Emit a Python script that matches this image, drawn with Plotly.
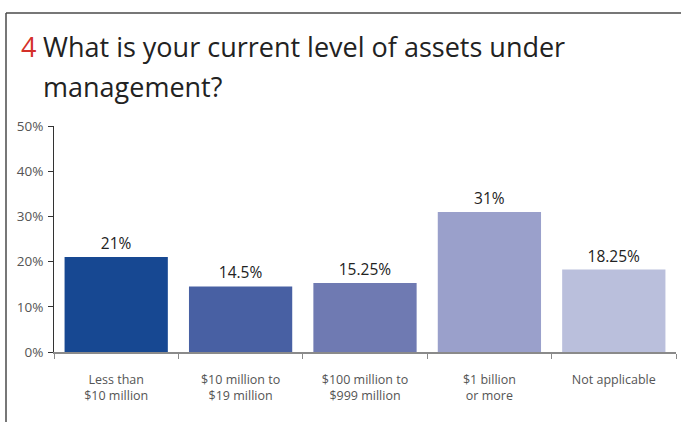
import plotly.graph_objects as go

# Survey results: current level of assets under management
categories = [
    "Less than<br>$10 million",
    "$10 million to<br>$19 million",
    "$100 million to<br>$999 million",
    "$1 billion<br>or more",
    "Not applicable",
]
values = [21, 14.5, 15.25, 31, 18.25]
bar_colors = ["#174892", "#4860a3", "#6f7ab2", "#9aa0cb", "#babfdc"]
y_ticks = [0, 10, 20, 30, 40, 50]
y_tick_labels = [f"{t}%" for t in y_ticks]

question_number = "4"
question_lines = ["What is your current level of assets under", "management?"]

W, H = 681, 422
M_L, M_R, M_T, M_B = 54, 5, 126, 70
plot_w = W - M_L - M_R
plot_h = H - M_T - M_B


def px_x(x):
    return (x - M_L) / plot_w


def px_y(y):
    return (H - M_B - y) / plot_h


font_family = "Open Sans, Noto Sans, sans-serif"

fig = go.Figure(
    go.Bar(
        x=categories,
        y=values,
        marker=dict(color=bar_colors, line=dict(width=0)),
        text=[f"{v:g}%" for v in values],
        textposition="outside",
        textfont=dict(size=15.5, color="#222222", family=font_family),
        cliponaxis=False,
        width=0.83,
    )
)

fig.update_layout(
    width=W,
    height=H,
    margin=dict(l=M_L, r=M_R, t=M_T, b=M_B, autoexpand=False),
    paper_bgcolor="white",
    plot_bgcolor="white",
    showlegend=False,
    font=dict(family=font_family),
)

fig.update_yaxes(
    range=[0, 50],
    tickvals=y_ticks,
    ticktext=y_tick_labels,
    showgrid=False,
    zeroline=False,
    showline=True,
    linecolor="#333333",
    linewidth=1,
    ticks="outside",
    ticklen=5,
    tickcolor="#333333",
    tickfont=dict(size=13.5, color="#555555", family=font_family),
    ticklabelstandoff=2,
    automargin=False,
)

fig.update_xaxes(
    showgrid=False,
    showline=True,
    linecolor="#8a8a8a",
    linewidth=1.5,
    ticks="outside",
    tickson="boundaries",
    ticklen=5,
    tickcolor="#8a8a8a",
    tickfont=dict(size=12.5, color="#555555", family=font_family),
    ticklabelstandoff=15,
    automargin=False,
)

# Frame around the panel: top and left edges
fig.add_shape(type="line", xref="paper", yref="paper",
              x0=px_x(6), x1=px_x(W + 2), y0=px_y(13), y1=px_y(13),
              line=dict(color="#4a4a4a", width=1.5))
fig.add_shape(type="line", xref="paper", yref="paper",
              x0=px_x(6), x1=px_x(6), y0=px_y(13), y1=px_y(H + 2),
              line=dict(color="#4a4a4a", width=1.5))

# Question heading
fig.add_annotation(
    text=question_number, xref="paper", yref="paper",
    x=px_x(19), y=px_y(26), xanchor="left", yanchor="top",
    showarrow=False, font=dict(size=27, color="#d4302a", family=font_family),
)
for i, line in enumerate(question_lines):
    fig.add_annotation(
        text=line, xref="paper", yref="paper",
        x=px_x(41), y=px_y(26 + 40 * i), xanchor="left", yanchor="top",
        showarrow=False, font=dict(size=27, color="#222222", family=font_family),
    )

fig.write_html("out.html")
